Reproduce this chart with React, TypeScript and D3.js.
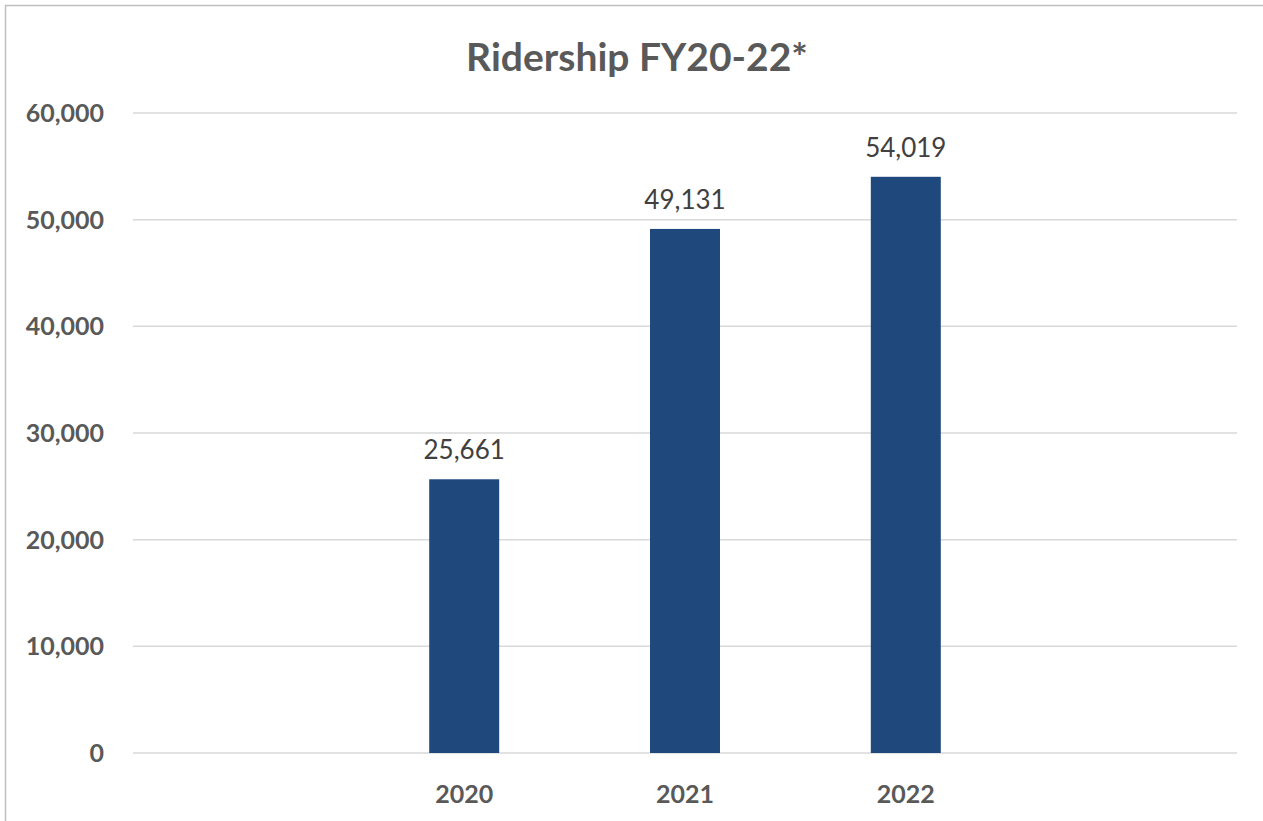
import React, { useEffect, useRef } from "react";
import * as d3 from "d3";

// data ------------------------------------------------------
const years = ["2020", "2021", "2022"];
const riders = [25661, 49131, 54019];
const yTicks = [0, 10000, 20000, 30000, 40000, 50000, 60000];
const title = "Ridership FY20-22*";

const App = () => {
    const [width, height] = [1263, 821];
    const ref = useRef<SVGSVGElement>(null);

    useEffect(() => {
        const svg = d3.select(ref.current);
        svg.selectAll("*").remove();

        // plot area
        const [left, right, top, bottom] = [133, 1237, 113, 753];

        // empty slot on each side of the three years, like the original
        const slots = ["pad-left", ...years, "pad-right"];
        const x = d3.scaleBand().domain(slots).range([left, right]).padding(0);
        const y = d3.scaleLinear().domain([0, 60000]).range([bottom, top]);
        const barW = x.bandwidth() * 0.317;
        const fmt = d3.format(",");

        // chart border
        svg.append("rect")
            .attr("x", 5.5)
            .attr("y", 5.5)
            .attr("width", width + 20)
            .attr("height", height + 20)
            .style("fill", "#ffffff")
            .style("stroke", "#bfbfbf")
            .style("stroke-width", 1.5);

        // title
        svg.append("text")
            .attr("x", 637)
            .attr("y", 71)
            .attr("text-anchor", "middle")
            .style("font-family", "Lato, sans-serif")
            .style("font-weight", "bold")
            .style("font-size", "39px")
            .style("fill", "#595959")
            .text(title);

        // gridlines + y labels
        const grid = svg.append("g").attr("class", "yaxis");
        grid.selectAll("line")
            .data(yTicks)
            .join("line")
            .attr("x1", left)
            .attr("x2", right)
            .attr("y1", (d) => y(d))
            .attr("y2", (d) => y(d))
            .style("stroke", "#d9d9d9")
            .style("stroke-width", 1.5);

        grid.selectAll("text")
            .data(yTicks)
            .join("text")
            .attr("x", 104)
            .attr("y", (d) => y(d))
            .attr("dy", "0.36em")
            .attr("text-anchor", "end")
            .style("font-family", "Lato, sans-serif")
            .style("font-weight", "bold")
            .style("font-size", "25px")
            .style("fill", "#595959")
            .text((d) => fmt(d));

        // bars
        const cx = (yr: string) => (x(yr) as number) + x.bandwidth() / 2;
        svg.append("g")
            .selectAll("rect")
            .data(riders)
            .join("rect")
            .attr("x", (d, i) => cx(years[i]) - barW / 2)
            .attr("y", (d) => y(d))
            .attr("width", barW)
            .attr("height", (d) => y(0) - y(d))
            .style("fill", "#1f497d");

        // data labels
        svg.append("g")
            .selectAll("text")
            .data(riders)
            .join("text")
            .attr("x", (d, i) => cx(years[i]))
            .attr("y", (d) => y(d) - 20)
            .attr("text-anchor", "middle")
            .style("font-family", "Lato, sans-serif")
            .style("font-size", "26px")
            .style("fill", "#404040")
            .text((d) => fmt(d));

        // x labels
        svg.append("g")
            .attr("class", "xaxis")
            .selectAll("text")
            .data(years)
            .join("text")
            .attr("x", (d) => cx(d))
            .attr("y", 803)
            .attr("text-anchor", "middle")
            .style("font-family", "Lato, sans-serif")
            .style("font-weight", "bold")
            .style("font-size", "25px")
            .style("fill", "#595959")
            .text((d) => d);
    }, []);

    return (
        <div style={{ position: "absolute", left: 0, top: 0 }}>
            <svg ref={ref} width={width} height={height} style={{ display: "block" }}></svg>
        </div>
    );
};

export default App;
